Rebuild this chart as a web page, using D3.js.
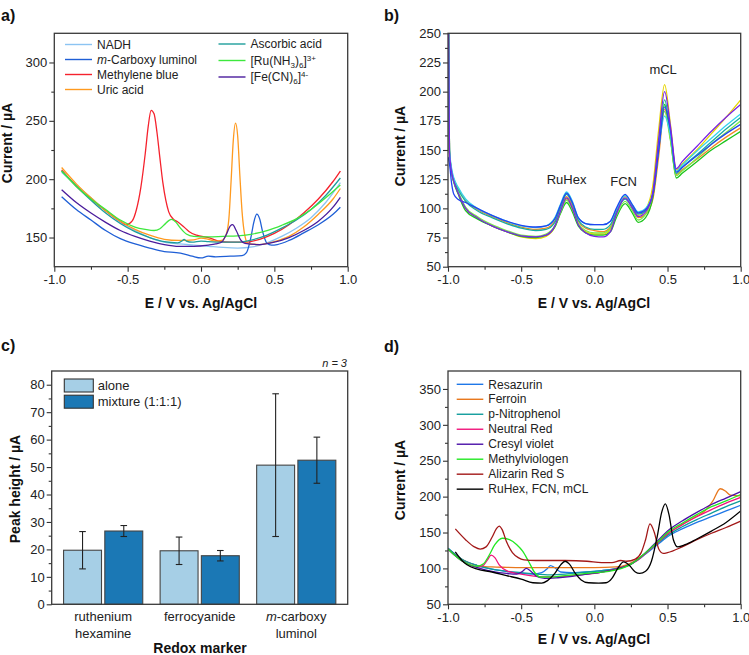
<!DOCTYPE html>
<html><head><meta charset="utf-8">
<script src="https://cdn.jsdelivr.net/npm/d3@7"></script>
<style>body{margin:0;background:#fff}svg{display:block}</style>
</head><body><svg id="c" width="749" height="655"></svg>
<script>
// ---------- Panel a data ----------
const aNames = ["NADH", "m-Carboxy luminol", "Methylene blue", "Uric acid", "Ascorbic acid", "[Ru(NH3)6]3+", "[Fe(CN)6]4-"];
const aNADH = [[-0.95,206],[-0.85,195],[-0.75,184],[-0.65,173],[-0.55,163],[-0.45,156],[-0.35,150],[-0.25,146],[-0.15,144.5],[-0.05,143.5],[0.05,142.5],[0.15,141.5],[0.25,141],[0.35,142],[0.45,145.5],[0.55,151],[0.65,158],[0.75,167],[0.85,180],[0.95,197]];
const aMCL = [[-0.95,185],[-0.85,174],[-0.75,165],[-0.65,156],[-0.55,149],[-0.45,144.5],[-0.35,141],[-0.25,138],[-0.17,137],[-0.12,136],[-0.06,134],[0.0,132.5],[0.05,134],[0.1,133.5],[0.2,134],[0.28,134.5],[0.31,137],[0.34,150],[0.36,163],[0.38,170],[0.4,166],[0.42,155],[0.45,145],[0.48,143.5],[0.52,144],[0.6,147.5],[0.7,154],[0.8,161],[0.9,170],[0.95,176]];
const aMB = [[-0.95,208],[-0.85,194],[-0.75,183],[-0.65,173],[-0.55,164],[-0.51,161],[-0.47,164],[-0.44,174],[-0.41,193],[-0.38,222],[-0.36,245],[-0.34,259],[-0.32,256],[-0.3,240],[-0.28,218],[-0.26,197],[-0.24,182],[-0.22,172],[-0.19,166],[-0.16,163.5],[-0.12,159.5],[-0.08,155],[-0.03,152],[0.05,150],[0.12,147],[0.2,146],[0.3,146],[0.4,148.5],[0.5,153.5],[0.6,161],[0.7,171],[0.8,183],[0.9,198],[0.95,207]];
const aUA = [[-0.95,210],[-0.85,196],[-0.75,184],[-0.65,173],[-0.55,164],[-0.45,157],[-0.35,152],[-0.25,148.5],[-0.15,147.5],[-0.05,148],[0.0,149.5],[0.05,148.5],[0.1,147],[0.14,147.5],[0.17,152],[0.19,166],[0.205,198],[0.22,233],[0.235,248],[0.25,237],[0.265,203],[0.28,172],[0.3,151],[0.32,145],[0.4,144],[0.5,146.5],[0.6,151],[0.7,159],[0.8,170],[0.9,183],[0.95,192]];
const aAA = [[-0.95,207],[-0.85,194],[-0.75,182],[-0.65,171],[-0.55,162],[-0.45,155],[-0.35,150],[-0.25,146.5],[-0.16,145.5],[-0.13,147],[-0.115,148.5],[-0.1,147],[-0.06,146],[0.0,147],[0.05,146.5],[0.15,146],[0.25,146],[0.35,148],[0.45,152],[0.55,158],[0.65,165],[0.75,174],[0.85,186],[0.95,201]];
const aRU = [[-0.95,207],[-0.85,194],[-0.75,183],[-0.65,174],[-0.55,165],[-0.45,159],[-0.38,157],[-0.32,156],[-0.28,157.5],[-0.25,161],[-0.22,164.5],[-0.2,165.5],[-0.17,163],[-0.14,158],[-0.1,153],[-0.05,151],[0.05,150.5],[0.15,151],[0.25,151.5],[0.35,153],[0.45,156],[0.55,160.5],[0.65,166],[0.75,174],[0.85,184],[0.95,195]];
const aFE = [[-0.95,191],[-0.85,180],[-0.75,171],[-0.65,163],[-0.55,156],[-0.45,151],[-0.35,147],[-0.25,144],[-0.15,142.5],[-0.05,142.5],[0.05,143.5],[0.1,144.5],[0.14,146],[0.17,152],[0.2,160],[0.215,161],[0.24,156],[0.27,148],[0.3,145],[0.4,144],[0.5,146],[0.6,150],[0.7,156],[0.8,164],[0.9,176],[0.95,184.5]];
const aColors = ["#8cc4f2","#1f5fd6","#f5222d","#ff9a1f","#1e9e9b","#3de83d","#4a1c9c"];

// ---------- Panel b data ----------
const xB = [-1.0,-0.99,-0.975,-0.96,-0.93,-0.88,-0.8,-0.7,-0.6,-0.5,-0.4,-0.33,-0.27,-0.23,-0.19,-0.15,-0.11,-0.06,0.0,0.06,0.11,0.15,0.21,0.26,0.3,0.35,0.4,0.44,0.48,0.52,0.56,0.6,0.7,0.8,0.9,1.0];
const bYellow = [330,150,131,123,113,100,92,85,80,75.5,74,76,84,97,108,99,86,80,78,78,82,95,110,101,94,99,120,168,206,172,133,138,150,164,178,193];
const bOrange = [330,150,132,125,117,107,99,93,88,84,82,83,89,101,110,102,89,83,81,80,84,97,111,101,92,95,108,145,185,160,129,133,142,152,161,169];
const bGreen  = [330,148,130,122,112,98,91,85,80,76,75,77,84,96,105,97,85,79,77,77,80,92,104,96,88,92,110,152,189,160,126,130,140,150,158,166];
const bLime   = [330,149,131,123,114,101,93,86,81,77,76,78,85,97,107,99,87,81,79,79,83,94,106,98,90,95,113,155,183,158,128,132,143,155,165,175];
const bTeal   = [330,150,132,124,116,106,98,92,87,83,81,82,88,101,112,104,90,84,82,82,86,97,108,101,95,98,113,156,193,164,130,135,146,157,168,178];
const bCyan   = [330,152,134,126,118,108,100,94,89,85,83.5,85,92,104,114,106,92,87,86,86,89,99,111,103,97,100,113,152,179,163,132,137,149,160,171,181];
const bBlue   = [144,138,121,112,107.5,105,100,94,89,85.5,84,85,91,103,113,105,92,87,86,86,89,100,112,103,96,99,112,150,187,167,131,135,145,155,164,172];
const bPurple = [330,149,131,123,113,100,92,85,80,76.5,75.5,77,85,98,109,100,86,79,76,75.5,80,95,109,100,93,97,114,160,200,170,134,140,153,166,178,189];
const bColors = ["#e6d400","#f28a26","#1cc41c","#7ae84a","#18ad9e","#34d4ec","#2244f0","#7a22e6"];
const bPeakLabels = ["RuHex","FCN","mCL"];
const bPeakPos = [[-0.19,116],[0.2,114],[0.47,210]];

// ---------- Panel c data ----------
const cCats = ["ruthenium hexamine","ferrocyanide","m-carboxy luminol"];
const cGroups = ["alone","mixture (1:1:1)"];
const cAlone = [19.7, 19.5, 50.7];
const cAloneErr = [6.8, 5.0, 26.0];
const cMix = [26.7, 17.7, 52.5];
const cMixErr = [2.0, 1.9, 8.4];
const cColors = ["#a6cfe6","#1b78b5"];

// ---------- Panel d data ----------
const dNames = ["Resazurin","Ferroin","p-Nitrophenol","Neutral Red","Cresyl violet","Methylviologen","Alizarin Red S","RuHex, FCN, mCL"];
const dRes = [[-1.0,128],[-0.9,112],[-0.8,104],[-0.7,99],[-0.6,96],[-0.5,93],[-0.42,92],[-0.36,94],[-0.32,100],[-0.3,104],[-0.27,101],[-0.23,95],[-0.15,94],[-0.05,95],[0.05,97],[0.15,100],[0.25,106],[0.3,112],[0.35,120],[0.4,128],[0.45,136],[0.5,144],[0.6,155],[0.7,164],[0.8,172],[0.9,180],[1.0,188]];
const dFer = [[-1.0,127],[-0.9,112],[-0.8,104],[-0.7,102],[-0.6,101.5],[-0.4,101],[-0.2,101],[0.0,101],[0.15,102],[0.22,105],[0.28,111],[0.35,121],[0.4,130],[0.45,139],[0.5,148],[0.6,161],[0.7,173],[0.76,181],[0.81,194],[0.86,211],[0.9,207],[0.93,202],[1.0,201]];
const dNit = [[-1.0,128],[-0.9,112],[-0.8,104],[-0.7,99],[-0.6,96],[-0.5,94],[-0.4,92],[-0.3,91],[-0.2,92],[-0.1,94],[0.0,96],[0.1,98],[0.2,102],[0.25,106],[0.3,113],[0.35,121],[0.4,130],[0.45,138],[0.5,146],[0.6,158],[0.7,168],[0.8,177],[0.9,186],[1.0,194]];
const dNR = [[-1.0,127],[-0.9,110],[-0.8,102],[-0.76,104],[-0.73,112],[-0.705,118.5],[-0.68,115],[-0.65,105],[-0.6,97],[-0.5,92],[-0.4,89],[-0.3,88],[-0.2,89],[-0.1,91],[0.0,93],[0.1,97],[0.2,102],[0.25,106],[0.3,112],[0.35,121],[0.4,130],[0.45,139],[0.5,148],[0.6,161],[0.7,172],[0.8,182],[0.9,191],[1.0,199]];
const dCV = [[-1.0,127],[-0.9,110],[-0.8,101],[-0.7,96],[-0.6,93],[-0.53,92],[-0.49,96],[-0.465,100],[-0.44,97],[-0.4,90],[-0.34,86],[-0.25,87],[-0.15,89],[-0.05,92],[0.05,95],[0.15,99],[0.25,106],[0.3,113],[0.35,122],[0.4,132],[0.45,142],[0.5,152],[0.6,166],[0.7,178],[0.8,189],[0.9,198],[1.0,207]];
const dMV = [[-1.0,127],[-0.9,110],[-0.8,103],[-0.76,106],[-0.72,118],[-0.68,133],[-0.63,142],[-0.58,140],[-0.53,133],[-0.49,124],[-0.45,110],[-0.41,95],[-0.37,88],[-0.3,88],[-0.2,90],[-0.1,92],[0.0,94],[0.1,96],[0.2,101],[0.25,106],[0.3,113],[0.35,122],[0.4,131],[0.45,140],[0.5,150],[0.6,163],[0.7,175],[0.8,186],[0.9,194],[1.0,203]];
const dARS = [[-0.95,155],[-0.88,140],[-0.82,130],[-0.78,127],[-0.74,130],[-0.7,143],[-0.67,155],[-0.65,159],[-0.63,154],[-0.6,137],[-0.56,122],[-0.52,115],[-0.48,112],[-0.4,111],[-0.2,111],[-0.05,110],[0.05,108],[0.12,108],[0.18,111],[0.22,110],[0.28,113],[0.32,122],[0.35,140],[0.38,162],[0.41,150],[0.44,127],[0.47,121],[0.5,122],[0.6,130],[0.7,140],[0.8,149],[0.9,157],[1.0,166]];
const dMix = [[-0.95,123],[-0.9,110],[-0.87,105],[-0.8,99],[-0.7,95],[-0.6,90],[-0.5,85],[-0.42,80],[-0.36,79.5],[-0.32,83],[-0.27,93],[-0.23,105],[-0.2,110],[-0.17,106],[-0.13,93],[-0.09,84],[-0.04,80],[0.03,79.5],[0.08,80],[0.12,86],[0.16,100],[0.2,109],[0.24,104],[0.28,95],[0.31,93],[0.35,96],[0.39,110],[0.43,145],[0.46,178],[0.485,190],[0.51,175],[0.54,140],[0.57,130],[0.62,133],[0.7,141],[0.8,152],[0.9,164],[1.0,180]];
const dColors = ["#1f78e8","#e8781e","#0f9c9c","#f0147a","#4b10a8","#22e822","#a31818","#000000"];

// tick values
const xMajorE = [-1.0,-0.5,0.0,0.5,1.0];
const xMinorE = [-0.75,-0.25,0.25,0.75];

// ---------- drawing ----------
const FONT = '"Liberation Sans", Arial, Helvetica, sans-serif';
const svg = d3.select("#c").attr("font-family", FONT);
const defs = svg.append("defs");

function styleAxis(sel, fs) {
  sel.attr("font-family", FONT).attr("font-size", fs || 13);
  sel.select(".domain").remove();
  sel.selectAll("line").attr("stroke", "#333").attr("stroke-width", 1.1);
  sel.selectAll("text").attr("fill", "#222");
}

function panel(id, box, xDom, yDom, yMajor, yMinor, xMajor, xMinor) {
  const x = d3.scaleLinear().domain(xDom).range([box[0], box[2]]);
  const y = d3.scaleLinear().domain(yDom).range([box[3], box[1]]);
  const g = svg.append("g");
  defs.append("clipPath").attr("id", "clip" + id).append("rect")
    .attr("x", box[0]).attr("y", box[1]).attr("width", box[2]-box[0]).attr("height", box[3]-box[1]);
  // y axis
  styleAxis(g.append("g").attr("transform", `translate(${box[0]},0)`)
    .call(d3.axisLeft(y).tickValues(yMajor).tickSize(5).tickPadding(2).tickFormat(d => String(d))));
  styleAxis(g.append("g").attr("transform", `translate(${box[0]},0)`)
    .call(d3.axisLeft(y).tickValues(yMinor).tickSize(3).tickFormat("")));
  if (xMajor) {
    styleAxis(g.append("g").attr("transform", `translate(0,${box[3]})`)
      .call(d3.axisBottom(x).tickValues(xMajor).tickSize(5).tickPadding(3).tickFormat(d => d.toFixed(1))));
    styleAxis(g.append("g").attr("transform", `translate(0,${box[3]})`)
      .call(d3.axisBottom(x).tickValues(xMinor).tickSize(3).tickFormat("")));
  }
  const plot = g.append("g").attr("clip-path", `url(#clip${id})`);
  const top = g.append("g");
  top.append("rect").attr("x", box[0]).attr("y", box[1]).attr("width", box[2]-box[0]).attr("height", box[3]-box[1])
    .attr("fill", "none").attr("stroke", "#3a3a3a").attr("stroke-width", 1.3);
  return {x, y, g, plot, top};
}

function drawLines(p, seriesList, colors, width) {
  const line = d3.line().x(d => p.x(d[0])).y(d => p.y(d[1])).curve(d3.curveMonotoneX);
  p.plot.selectAll("path.s").data(seriesList).enter().append("path")
    .attr("class", "s").attr("d", d => line(d)).attr("fill", "none")
    .attr("stroke", (d, i) => colors[i]).attr("stroke-width", width || 1.3).attr("stroke-linejoin", "round");
}

function panelLabel(t, x, y) {
  svg.append("text").attr("x", x).attr("y", y).attr("font-size", 16).attr("font-weight", "bold").attr("fill", "#111").text(t);
}
function yTitle(t, x, y) {
  svg.append("text").attr("transform", `translate(${x},${y}) rotate(-90)`).attr("text-anchor", "middle")
    .attr("font-size", 14).attr("font-weight", "bold").attr("fill", "#111").text(t);
}
function xTitle(t, x, y) {
  svg.append("text").attr("x", x).attr("y", y).attr("text-anchor", "middle")
    .attr("font-size", 14).attr("font-weight", "bold").attr("fill", "#111").text(t);
}

// ===== Panel a =====
const pa = panel("a", [54.3, 33.3, 347.7, 266.7], [-1, 1], [125, 325], [150,200,250,300], [175,225,275], xMajorE, xMinorE);
drawLines(pa, [aNADH, aMCL, aMB, aUA, aAA, aRU, aFE], aColors, 1.3);
panelLabel("a)", 1, 21);
yTitle("Current / µA", 12, 143);
xTitle("E / V vs. Ag/AgCl", 201, 308);
// legend a
const legA = pa.top.append("g").attr("font-size", 12).attr("fill", "#222");
const legAPos = [[65,44.5],[65,59.5],[65,74.5],[65,89.5],[218.5,44],[218.5,60.5],[218.5,77]];
aNames.forEach((n, i) => {
  const [lx, ly] = legAPos[i];
  legA.append("line").attr("x1", lx).attr("x2", lx + 27).attr("y1", ly).attr("y2", ly).attr("stroke", aColors[i]).attr("stroke-width", 1.4);
  const t = legA.append("text").attr("x", lx + 32).attr("y", ly).attr("dy", "0.35em").attr("fill", "#222");
  if (i === 1) { t.append("tspan").attr("font-style", "italic").text("m"); t.append("tspan").text("-Carboxy luminol"); }
  else if (i === 5) {
    t.append("tspan").text("[Ru(NH");
    t.append("tspan").attr("font-size", 8).attr("dy", 3).text("3");
    t.append("tspan").attr("dy", -3).text(")");
    t.append("tspan").attr("font-size", 8).attr("dy", 3).text("6");
    t.append("tspan").attr("dy", -3).text("]");
    t.append("tspan").attr("font-size", 8).attr("dy", -4).text("3+");
  } else if (i === 6) {
    t.append("tspan").text("[Fe(CN)");
    t.append("tspan").attr("font-size", 8).attr("dy", 3).text("6");
    t.append("tspan").attr("dy", -3).text("]");
    t.append("tspan").attr("font-size", 8).attr("dy", -4).text("4-");
  } else t.text(n);
});

// ===== Panel b =====
const pb = panel("b", [448, 33.3, 740.7, 266.7], [-1, 1], [50, 250], d3.range(50, 251, 25), d3.range(62.5, 250, 25), xMajorE, xMinorE);
const bSeries = [bYellow, bOrange, bGreen, bLime, bTeal, bCyan, bBlue, bPurple].map(ys => xB.map((v, i) => [v, ys[i]]));
drawLines(pb, bSeries, bColors, 1.3);
bPeakLabels.forEach((t, i) => {
  pb.top.append("text").attr("x", pb.x(bPeakPos[i][0])).attr("y", pb.y(bPeakPos[i][1]) - 6)
    .attr("text-anchor", "middle").attr("font-size", 13).attr("fill", "#222").text(t);
});
panelLabel("b)", 384, 21);
yTitle("Current / µA", 405, 146);
xTitle("E / V vs. Ag/AgCl", 594, 308);

// ===== Panel c =====
const cBox = [51.7, 371, 347.7, 604.3];
const cx = d3.scaleBand().domain(cCats).range([cBox[0], cBox[2]]).paddingInner(0.18).paddingOuter(0.123);
const cy = d3.scaleLinear().domain([0, 85]).range([cBox[3], cBox[1]]);
const cSub = d3.scaleBand().domain(cGroups).range([0, cx.bandwidth()]).paddingInner(0.08);
const gc = svg.append("g");
styleAxis(gc.append("g").attr("transform", `translate(${cBox[0]},0)`)
  .call(d3.axisLeft(cy).tickValues(d3.range(0, 81, 10)).tickSize(5).tickPadding(2)));
styleAxis(gc.append("g").attr("transform", `translate(${cBox[0]},0)`)
  .call(d3.axisLeft(cy).tickValues(d3.range(5, 85, 10)).tickSize(3).tickFormat("")));
const cVals = [cAlone, cMix], cErrs = [cAloneErr, cMixErr];
cGroups.forEach((grp, gi) => {
  cCats.forEach((cat, ci) => {
    const bx = cx(cat) + cSub(grp), bw = cSub.bandwidth();
    const v = cVals[gi][ci], e = cErrs[gi][ci];
    gc.append("rect").attr("x", bx).attr("y", cy(v)).attr("width", bw).attr("height", cy(0) - cy(v))
      .attr("fill", cColors[gi]).attr("stroke", "#444").attr("stroke-width", 1.1);
    const mx = bx + bw / 2;
    gc.append("line").attr("x1", mx).attr("x2", mx).attr("y1", cy(v + e)).attr("y2", cy(v - e)).attr("stroke", "#222").attr("stroke-width", 1.1);
    [v + e, v - e].forEach(w => gc.append("line").attr("x1", mx - 3.3).attr("x2", mx + 3.3).attr("y1", cy(w)).attr("y2", cy(w)).attr("stroke", "#222").attr("stroke-width", 1.1));
  });
});
gc.append("rect").attr("x", cBox[0]).attr("y", cBox[1]).attr("width", cBox[2]-cBox[0]).attr("height", cBox[3]-cBox[1])
  .attr("fill", "none").attr("stroke", "#3a3a3a").attr("stroke-width", 1.3);
// category labels
cCats.forEach((cat, ci) => {
  const cxm = cx(cat) + cx.bandwidth() / 2;
  const t1 = gc.append("text").attr("x", cxm).attr("y", 621).attr("text-anchor", "middle").attr("font-size", 13).attr("fill", "#222");
  const t2 = gc.append("text").attr("x", cxm).attr("y", 637.5).attr("text-anchor", "middle").attr("font-size", 13).attr("fill", "#222");
  if (ci === 0) { t1.text("ruthenium"); t2.text("hexamine"); }
  else if (ci === 1) { t1.text("ferrocyanide"); }
  else { t1.append("tspan").attr("font-style", "italic").text("m"); t1.append("tspan").text("-carboxy"); t2.text("luminol"); }
});
// legend c
cGroups.forEach((grp, gi) => {
  const ly = 379 + gi * 16.2;
  gc.append("rect").attr("x", 64.3).attr("y", ly).attr("width", 29).attr("height", 13)
    .attr("fill", cColors[gi]).attr("stroke", "#333").attr("stroke-width", 1.1);
  gc.append("text").attr("x", 97.7).attr("y", ly + 6.5).attr("dy", "0.35em").attr("font-size", 13).attr("fill", "#222").text(grp);
});
gc.append("text").attr("x", 347).attr("y", 367).attr("text-anchor", "end").attr("font-size", 11).attr("font-style", "italic").attr("fill", "#222").text("n = 3");
panelLabel("c)", 1, 351);
yTitle("Peak height / µA", 20, 489);
xTitle("Redox marker", 200, 653);

// ===== Panel d =====
const pd = panel("d", [448, 371, 740.7, 604.3], [-1, 1], [50, 375], d3.range(50, 351, 50), d3.range(75, 375, 50), xMajorE, xMinorE);
drawLines(pd, [dRes, dFer, dNit, dNR, dCV, dMV, dARS, dMix], dColors, 1.3);
const legD = pd.top.append("g");
dNames.forEach((n, i) => {
  const ly = 384.3 + i * 14.98;
  legD.append("line").attr("x1", 456.7).attr("x2", 483.3).attr("y1", ly).attr("y2", ly).attr("stroke", dColors[i]).attr("stroke-width", 1.4);
  legD.append("text").attr("x", 488.3).attr("y", ly).attr("dy", "0.35em").attr("font-size", 12).attr("fill", "#222").text(n);
});
panelLabel("d)", 384, 352);
yTitle("Current / µA", 405, 480);
xTitle("E / V vs. Ag/AgCl", 594, 644);
</script></body></html>
